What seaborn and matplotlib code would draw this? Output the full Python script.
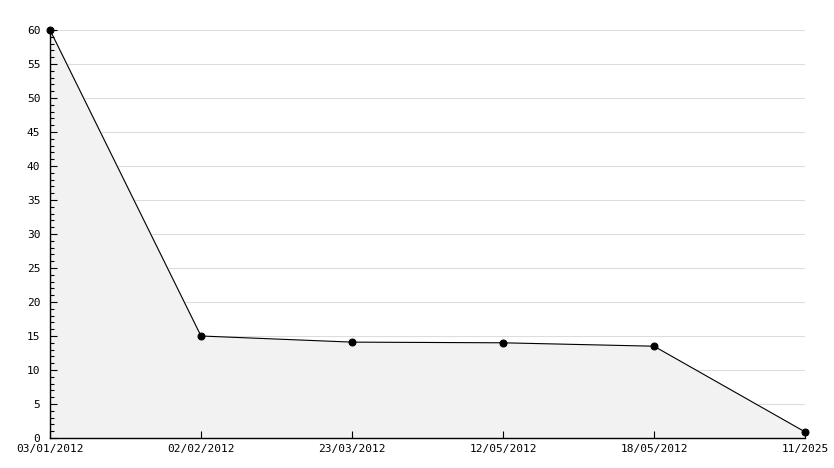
import matplotlib
matplotlib.use("Agg")
import matplotlib.pyplot as plt
from matplotlib.ticker import MultipleLocator
import numpy as np
import pandas as pd
import seaborn as sns

dates = ["03/01/2012", "02/02/2012", "23/03/2012", "12/05/2012", "18/05/2012", "11/2025"]
values = [60, 15, 14.1, 14.0, 13.5, 0.9]

sns.set_style("white")
plt.rcParams["font.family"] = ["DejaVu Sans Mono"]

df = pd.DataFrame({"pos": np.arange(len(dates)), "value": values})

fig = plt.figure(figsize=(8.34, 4.68), dpi=100)
ax = fig.add_axes([50 / 834, 30 / 468, 755 / 834, 408 / 468])

ax.fill_between(df["pos"], df["value"], 0, color="#f2f2f2", zorder=1)
sns.lineplot(data=df, x="pos", y="value", ax=ax, color="black", linewidth=0.8,
             marker="o", markersize=5, markeredgecolor="black", zorder=5,
             clip_on=False)

ax.set_xlim(0, len(dates) - 1)
ax.set_ylim(0, 60)
ax.set_xticks(df["pos"])
ax.set_xticklabels(dates)
ax.yaxis.set_major_locator(MultipleLocator(5))
ax.yaxis.set_minor_locator(MultipleLocator(1))
ax.set_xlabel("")
ax.set_ylabel("")

# grid behind the filled area, ticks drawn on top of it
ax.set_axisbelow(False)
for y in ax.get_yticks()[1:]:
    ax.axhline(y, color="#dddddd", linewidth=0.8, zorder=0)

for side in ("top", "right"):
    ax.spines[side].set_visible(False)
for side in ("left", "bottom"):
    ax.spines[side].set_color("black")
    ax.spines[side].set_linewidth(1.0)
    ax.spines[side].set_zorder(4)

ax.tick_params(axis="y", which="major", direction="in", length=5, width=0.8,
               labelsize=8, pad=7, left=True, color="black", labelcolor="black")
ax.tick_params(axis="y", which="minor", direction="in", length=3, width=0.8,
               left=True, color="black")
ax.tick_params(axis="x", which="major", direction="in", length=5, width=0.8,
               labelsize=8, pad=4, bottom=True, color="black", labelcolor="black")

fig.savefig("out.png", dpi=100)
